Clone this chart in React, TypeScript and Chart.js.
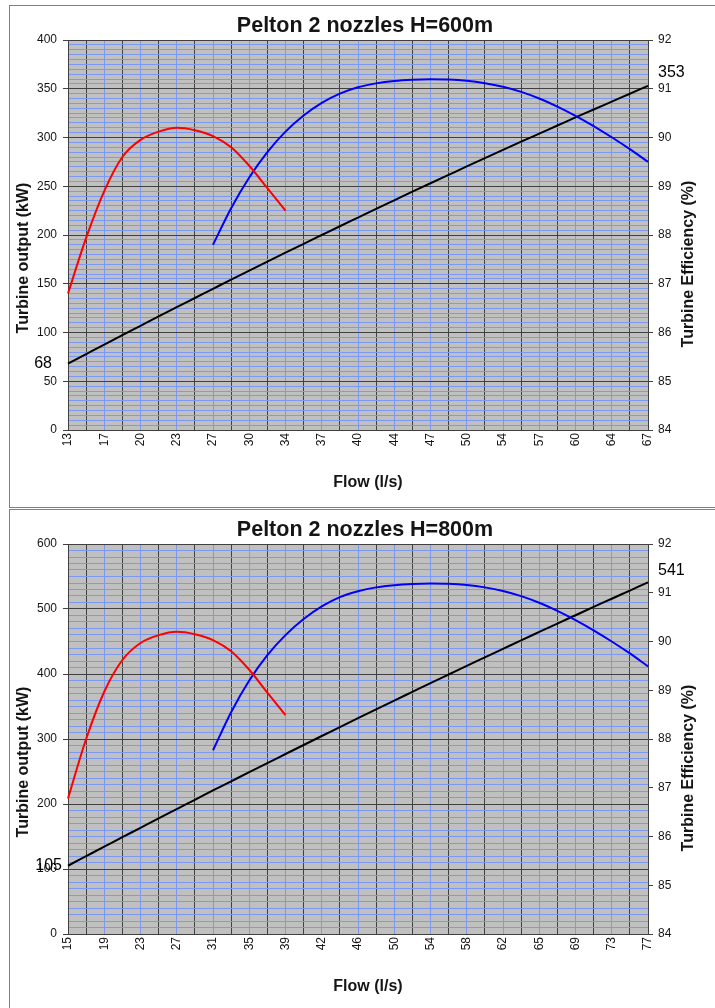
import React, { useEffect, useRef } from 'react';
import { Chart, registerables } from 'chart.js';

Chart.register(...registerables);

// ---------- Panel 1: H = 600 m ----------
const flowTicks600 = ['13', '17', '20', '23', '27', '30', '34', '37', '40', '44', '47', '50', '54', '57', '60', '64', '67'];
// Turbine output (kW), one value per grid step (half a label interval)
const output600 = [68, 77.8, 87.6, 97.3, 106.9, 116.5, 126, 135.4, 144.8, 154.2, 163.5, 172.7, 181.9, 191, 200, 209, 217.9, 226.8, 235.6, 244.4, 253.1, 261.7, 270.3, 278.8, 287.3, 295.7, 304, 312.3, 320.6, 328.7, 336.8, 344.9, 353];
// Efficiency curve (red), from the first grid step
const effRed600 = [86.8, 87.94, 88.9, 89.6, 89.95, 90.12, 90.2, 90.15, 90.03, 89.8, 89.42, 88.96, 88.5];
// Efficiency curve (blue), starts at grid step 8
const effBlue600 = [87.8, 88.55, 89.18, 89.7, 90.12, 90.45, 90.71, 90.9, 91.03, 91.11, 91.16, 91.185, 91.195, 91.19, 91.165, 91.115, 91.04, 90.935, 90.8, 90.635, 90.445, 90.235, 90.005, 89.76, 89.5];

// ---------- Panel 2: H = 800 m ----------
const flowTicks800 = ['15', '19', '23', '27', '31', '35', '39', '42', '46', '50', '54', '58', '62', '65', '69', '73', '77'];
const output800 = [105, 119.7, 134.4, 148.9, 163.4, 177.9, 192.2, 206.5, 220.8, 234.9, 249, 263, 276.9, 290.8, 304.6, 318.3, 332, 345.6, 359.1, 372.5, 385.9, 399.2, 412.5, 425.6, 438.7, 451.8, 464.7, 477.6, 490.4, 503.2, 515.8, 528.4, 541];
const effRed800 = [86.78, 88.0, 88.97, 89.62, 89.97, 90.13, 90.2, 90.15, 90.03, 89.8, 89.42, 88.95, 88.49];
const effBlue800 = [87.77, 88.55, 89.2, 89.72, 90.13, 90.46, 90.72, 90.91, 91.03, 91.11, 91.155, 91.18, 91.19, 91.185, 91.16, 91.11, 91.035, 90.93, 90.795, 90.63, 90.44, 90.23, 90.0, 89.755, 89.49];

const BLUE_START = 8;

const FONT = "'Liberation Sans', Arial, sans-serif";
const BG = '#c0c0c0';
const GRID_DARK = '#404040';
const GRID_BLUE = '#7b98f2';
const TEXT = '#151515';

type PanelCfg = {
  title: string;
  ticks: string[];
  output: number[];
  effRed: number[];
  effBlue: number[];
  yMax: number;
  yMajor: number;
  yMinor: number;
  h: number;
  firstLabelDx: number;
  lastLabelDy: number;
};

function buildCategories(ticks: string[]): string[] {
  const out: string[] = [];
  ticks.forEach((t, i) => {
    out.push(t);
    if (i < ticks.length - 1) out.push('');
  });
  return out;
}

const bgPlugin = {
  id: 'plotBg',
  beforeDraw(chart: any) {
    const { ctx, chartArea } = chart;
    ctx.save();
    ctx.fillStyle = '#ffffff';
    ctx.fillRect(0, 0, chart.width, chart.height);
    ctx.fillStyle = BG;
    ctx.fillRect(chartArea.left, chartArea.top, chartArea.right - chartArea.left, chartArea.bottom - chartArea.top);
    ctx.restore();
  },
};

function overlayPlugin(cfg: PanelCfg) {
  return {
    id: 'overlay',
    afterDraw(chart: any) {
      const ctx = chart.ctx as CanvasRenderingContext2D;
      ctx.save();
      ctx.fillStyle = TEXT;
      // Title
      ctx.font = `bold 21.5px ${FONT}`;
      ctx.textAlign = 'center';
      ctx.textBaseline = 'middle';
      ctx.fillText(cfg.title, 355, 20);
      // X title
      ctx.font = `bold 16px ${FONT}`;
      ctx.fillText('Flow (l/s)', 358, 477);
      // Left title
      ctx.save();
      ctx.translate(14, 252);
      ctx.rotate(-Math.PI / 2);
      ctx.fillText('Turbine output (kW)', 0, 0);
      ctx.restore();
      // Right title
      ctx.save();
      ctx.translate(679, 258);
      ctx.rotate(-Math.PI / 2);
      ctx.fillText('Turbine Efficiency (%)', 0, 0);
      ctx.restore();
      // Data labels on first / last point of the output curve
      const meta = chart.getDatasetMeta(2);
      const pts = meta.data;
      const first = pts[0];
      const last = pts[pts.length - 1];
      ctx.font = `16px ${FONT}`;
      ctx.fillStyle = '#000';
      ctx.textAlign = 'right';
      ctx.textBaseline = 'middle';
      ctx.fillText(String(cfg.output[0]), first.x - cfg.firstLabelDx, first.y);
      ctx.textAlign = 'left';
      ctx.fillText(String(cfg.output[cfg.output.length - 1]), last.x + 10, last.y + cfg.lastLabelDy);
      ctx.restore();
    },
  };
}

function Panel({ cfg }: { cfg: PanelCfg }) {
  const ref = useRef<HTMLCanvasElement>(null);
  useEffect(() => {
    const canvas = ref.current!;
    const categories = buildCategories(cfg.ticks);
    const n = categories.length;
    const red = [...cfg.effRed, ...Array(n - cfg.effRed.length).fill(null)];
    const blue = [...Array(BLUE_START).fill(null), ...cfg.effBlue];
    const tickFont = { family: FONT, size: 12 };
    const lineDefaults = { borderWidth: 2, pointRadius: 0, cubicInterpolationMode: 'monotone', fill: false };
    const chart = new Chart(canvas, {
      type: 'line',
      data: {
        labels: categories,
        datasets: [
          { data: red, borderColor: '#ff0000', yAxisID: 'y1', ...lineDefaults },
          { data: blue, borderColor: '#0000ff', yAxisID: 'y1', ...lineDefaults },
          { data: cfg.output, borderColor: '#000000', yAxisID: 'y', ...lineDefaults },
        ],
      },
      options: {
        responsive: false,
        animation: false,
        maintainAspectRatio: false,
        layout: { padding: { top: 34, left: 0, right: 0, bottom: 0 } },
        plugins: {
          legend: { display: false },
          tooltip: { enabled: false },
          title: { display: false },
        },
        scales: {
          x: {
            type: 'category',
            offset: false,
            grid: {
              color: (c: any) => (c.index % 2 === 0 ? GRID_BLUE : GRID_DARK),
              drawTicks: false,
              lineWidth: 1,
            },
            border: { color: GRID_DARK },
            ticks: {
              autoSkip: false,
              maxRotation: 90,
              minRotation: 90,
              padding: 3,
              font: tickFont,
              color: TEXT,
            },
            afterFit: (s: any) => {
              s.height = cfg.h - 424;
            },
          },
          y: {
            type: 'linear',
            position: 'left',
            min: 0,
            max: cfg.yMax,
            afterBuildTicks: (s: any) => {
              const t: any[] = [];
              for (let v = 0; v <= cfg.yMax; v += cfg.yMinor) t.push({ value: v });
              s.ticks = t;
            },
            ticks: {
              autoSkip: false,
              padding: 6,
              font: tickFont,
              color: TEXT,
              callback: (v: any) => (Number(v) % cfg.yMajor === 0 ? String(v) : ''),
            },
            grid: {
              color: (c: any) => (c.tick && c.tick.value % cfg.yMajor === 0 ? GRID_DARK : GRID_BLUE),
              tickColor: (c: any) => (c.tick && c.tick.value % cfg.yMajor === 0 ? GRID_DARK : 'rgba(0,0,0,0)'),
              tickLength: 5,
              lineWidth: 1,
            },
            border: { color: GRID_DARK },
            afterFit: (s: any) => {
              s.width = 58;
            },
          },
          y1: {
            type: 'linear',
            position: 'right',
            min: 84,
            max: 92,
            ticks: { stepSize: 1, padding: 5, font: tickFont, color: TEXT },
            grid: { drawOnChartArea: false, tickLength: 5, tickColor: GRID_DARK },
            border: { color: GRID_DARK },
            afterFit: (s: any) => {
              s.width = 67;
            },
          },
        },
      } as any,
      plugins: [bgPlugin, overlayPlugin(cfg)],
    });
    return () => chart.destroy();
  }, [cfg]);
  return <canvas ref={ref} width={705} height={cfg.h} style={{ display: 'block', width: 705, height: cfg.h }} />;
}

const panel600: PanelCfg = {
  title: 'Pelton 2 nozzles H=600m',
  ticks: flowTicks600,
  output: output600,
  effRed: effRed600,
  effBlue: effBlue600,
  yMax: 400,
  yMajor: 50,
  yMinor: 5,
  h: 501,
  firstLabelDx: 16,
  lastLabelDy: -13,
};

const panel800: PanelCfg = {
  title: 'Pelton 2 nozzles H=800m',
  ticks: flowTicks800,
  output: output800,
  effRed: effRed800,
  effBlue: effBlue800,
  yMax: 600,
  yMajor: 100,
  yMinor: 10,
  h: 498,
  firstLabelDx: 6,
  lastLabelDy: -12,
};

export default function App() {
  const border = '1px solid #808080';
  return (
    <div style={{ position: 'absolute', left: 0, top: 0, width: 715, height: 1008, overflow: 'hidden', background: '#fff' }}>
      <div
        style={{
          position: 'absolute',
          left: 9,
          top: 5,
          width: 705,
          height: 501,
          borderTop: border,
          borderLeft: border,
          borderBottom: border,
          background: '#fff',
        }}
      >
        <Panel cfg={panel600} />
      </div>
      <div
        style={{
          position: 'absolute',
          left: 9,
          top: 509,
          width: 705,
          height: 498,
          borderTop: border,
          borderLeft: border,
          background: '#fff',
        }}
      >
        <Panel cfg={panel800} />
      </div>
    </div>
  );
}
